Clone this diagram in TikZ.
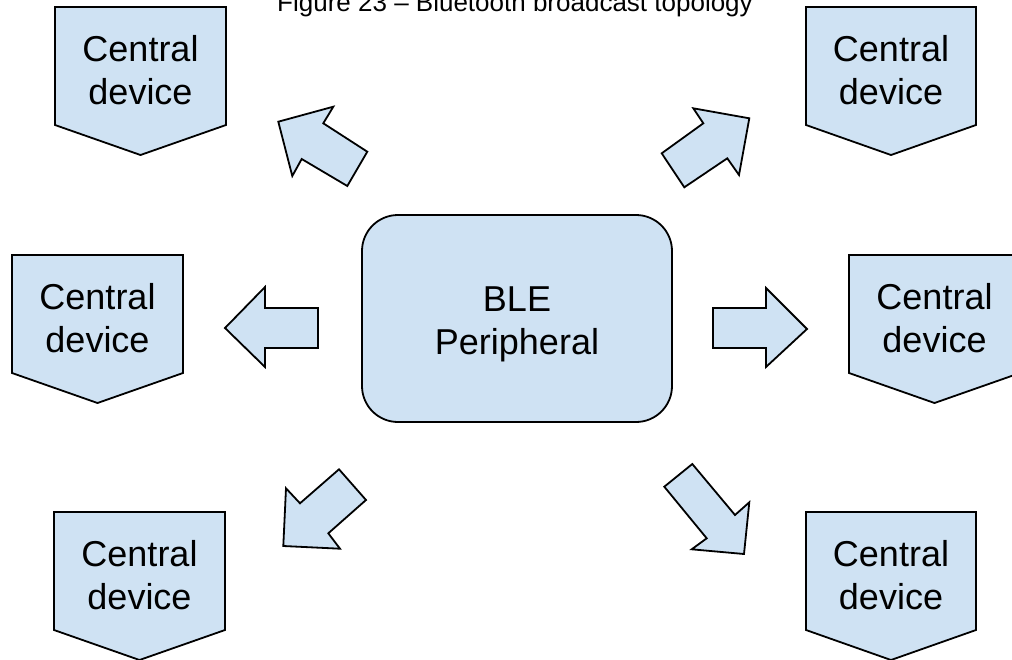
\documentclass[tikz,border=0pt]{standalone}
\usepackage{fontspec}
\setmainfont{Liberation Sans}
\definecolor{boxblue}{HTML}{CFE2F3}
\begin{document}
\begin{tikzpicture}[x=1pt,y=-1pt,
  shapefill/.style={fill=boxblue,draw=black,line width=1.8pt,line join=miter},
  devlabel/.style={align=center,font=\fontsize{36}{43}\selectfont,inner sep=0pt},
]
\useasboundingbox (0,0) rectangle (1012,659);
\clip (0,0) rectangle (1012,659);

% title (mostly cut off at the top, as in the reference)
\node[anchor=base,font=\fontsize{26}{30}\selectfont,inner sep=0pt] (title) at (515,11) {Figure 23 – Bluetooth broadcast topology};

% central devices
\foreach \n/\l/\r/\t in {tl/55/226/7, tr/806/976/7, ml/12/183/255, mr/849/1020/255, bl/54/225/512, br/806/976/512} {
  \draw[shapefill] (\l,\t) -- (\r,\t) -- (\r,\t+118) -- ({(\l+\r)/2},\t+148) -- (\l,\t+118) -- cycle;
  \node[devlabel] (dev\n) at ({(\l+\r)/2},\t+63) {Central\\device};
}

% BLE peripheral
\node[shapefill,rounded corners=36pt,minimum width=310pt,minimum height=207pt,inner sep=0pt] (ble) at (517,318.5) {};
\node[devlabel] (bletext) at (517,324) {BLE\\Peripheral};

% block arrows
\draw[shapefill] (318,308) -- (265,308) -- (265,287) -- (225,328) -- (265,367) -- (265,348) -- (318,348) -- cycle;
\draw[shapefill] (713,308) -- (766,308) -- (766,288) -- (807,329) -- (766,367) -- (766,348) -- (713,348) -- cycle;
\draw[shapefill] (367.3,151.7) -- (323.3,123.3) -- (333.3,106.7) -- (278.3,121.7) -- (292.3,176) -- (301.7,159) -- (347.3,186) -- cycle;
\draw[shapefill] (661.7,153.3) -- (703.3,123.3) -- (693.3,108.3) -- (749.3,118.3) -- (739,175) -- (727.3,158.3) -- (684.3,187.3) -- cycle;
\draw[shapefill] (339,469.3) -- (300,503.3) -- (286,488.3) -- (283.3,546) -- (340,548.7) -- (328.3,533.3) -- (366,500) -- cycle;
\draw[shapefill] (692.3,464) -- (735,515) -- (749.3,502.3) -- (744,554) -- (691.7,549.3) -- (706.7,538.3) -- (664.3,486.7) -- cycle;
\end{tikzpicture}
\end{document}
